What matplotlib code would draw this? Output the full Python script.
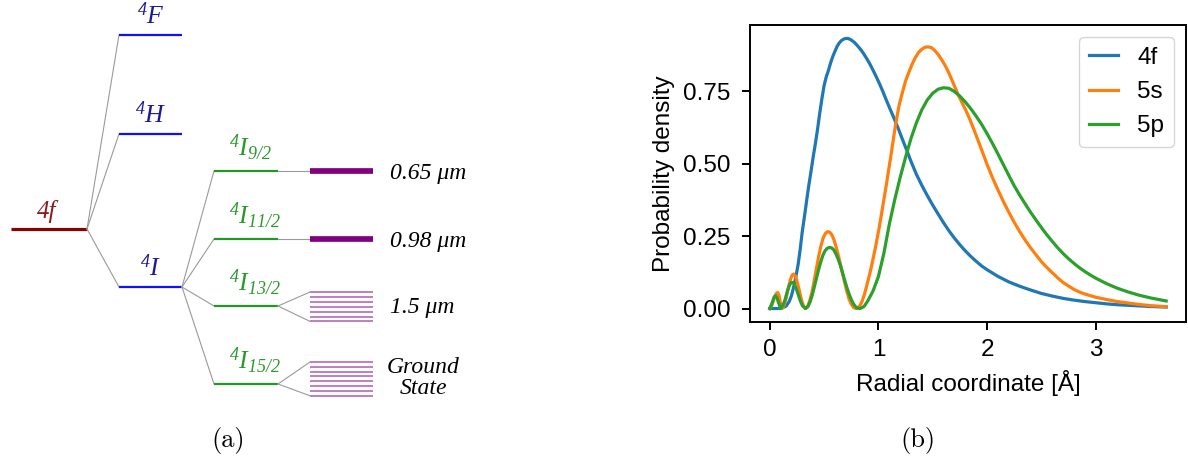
import matplotlib
matplotlib.use('Agg')
import matplotlib.pyplot as plt

plt.rcParams['mathtext.fontset'] = 'custom'
plt.rcParams['mathtext.it'] = 'Liberation Serif:italic'
plt.rcParams['mathtext.rm'] = 'Liberation Serif:italic'

# radial probability densities, r in Angstrom
r_4f = [0.0, 0.10, 0.15, 0.18, 0.20, 0.22, 0.236, 0.26, 0.28, 0.298, 0.32, 0.34, 0.359,
        0.38, 0.40, 0.42, 0.44, 0.46, 0.48, 0.50, 0.52, 0.54, 0.56, 0.58, 0.60, 0.62,
        0.64, 0.66, 0.68, 0.70, 0.72, 0.74, 0.76, 0.78, 0.80, 0.83, 0.86, 0.89, 0.92,
        0.95, 0.98, 1.01, 1.04, 1.07, 1.10, 1.14, 1.18, 1.22, 1.26, 1.30, 1.35, 1.40,
        1.45, 1.50, 1.55, 1.60, 1.65, 1.70, 1.75, 1.80, 1.85, 1.90, 1.95, 2.00, 2.10,
        2.20, 2.30, 2.40, 2.50, 2.60, 2.70, 2.80, 2.90, 3.00, 3.10, 3.20, 3.30, 3.40,
        3.50, 3.65]
p_4f = [0.0, 0.0, 0.008, 0.025, 0.045, 0.075, 0.102, 0.15, 0.205, 0.263, 0.32, 0.375,
        0.425, 0.475, 0.525, 0.57, 0.62, 0.675, 0.725, 0.77, 0.80, 0.822, 0.848, 0.870,
        0.888, 0.905, 0.917, 0.925, 0.930, 0.932, 0.932, 0.929, 0.924, 0.918, 0.910,
        0.897, 0.882, 0.864, 0.845, 0.823, 0.800, 0.776, 0.750, 0.722, 0.695, 0.660,
        0.624, 0.585, 0.547, 0.508, 0.463, 0.425, 0.390, 0.357, 0.326, 0.296, 0.268,
        0.243, 0.220, 0.199, 0.180, 0.163, 0.147, 0.134, 0.111, 0.092, 0.077, 0.064,
        0.052, 0.043, 0.035, 0.029, 0.024, 0.020, 0.016, 0.013, 0.011, 0.009, 0.007,
        0.005]

r_5s = [0.0, 0.02, 0.04, 0.06, 0.074, 0.085, 0.10, 0.114, 0.13, 0.15, 0.17, 0.19, 0.205,
        0.221, 0.235, 0.25, 0.27, 0.29, 0.31, 0.328, 0.35, 0.37, 0.39, 0.41, 0.43, 0.45,
        0.47, 0.49, 0.51, 0.53, 0.55, 0.57, 0.59, 0.61, 0.63, 0.65, 0.67, 0.69, 0.71,
        0.73, 0.75, 0.77, 0.79, 0.81, 0.83, 0.85, 0.87, 0.89, 0.91, 0.93, 0.95, 0.97,
        0.99, 1.01, 1.03, 1.05, 1.07, 1.09, 1.11, 1.13, 1.15, 1.17, 1.19, 1.21, 1.23,
        1.25, 1.28, 1.31, 1.34, 1.37, 1.40, 1.43, 1.46, 1.49, 1.52, 1.55, 1.58, 1.61,
        1.64, 1.67, 1.70, 1.73, 1.76, 1.80, 1.84, 1.88, 1.92, 1.96, 2.00, 2.05, 2.10,
        2.15, 2.20, 2.25, 2.30, 2.35, 2.40, 2.45, 2.50, 2.55, 2.60, 2.65, 2.70, 2.75,
        2.80, 2.85, 2.90, 3.00, 3.10, 3.20, 3.30, 3.40, 3.50, 3.65]
p_5s = [0.0, 0.012, 0.035, 0.052, 0.055, 0.045, 0.015, 0.0, 0.01, 0.035, 0.07, 0.10,
        0.115, 0.119, 0.112, 0.095, 0.065, 0.032, 0.008, 0.0, 0.008, 0.03, 0.06, 0.098,
        0.14, 0.18, 0.215, 0.242, 0.258, 0.265, 0.264, 0.255, 0.238, 0.213, 0.185, 0.153,
        0.12, 0.088, 0.058, 0.033, 0.015, 0.004, 0.0, 0.002, 0.01, 0.025, 0.047, 0.075,
        0.105, 0.135, 0.17, 0.205, 0.245, 0.285, 0.33, 0.375, 0.42, 0.468, 0.515, 0.565,
        0.615, 0.66, 0.70, 0.73, 0.758, 0.785, 0.815, 0.843, 0.866, 0.884, 0.895, 0.902,
        0.903, 0.900, 0.890, 0.877, 0.860, 0.842, 0.820, 0.795, 0.768, 0.742, 0.718,
        0.688, 0.655, 0.617, 0.578, 0.538, 0.498, 0.452, 0.410, 0.370, 0.333, 0.298,
        0.266, 0.237, 0.210, 0.186, 0.162, 0.142, 0.124, 0.106, 0.090, 0.078, 0.066,
        0.057, 0.050, 0.039, 0.031, 0.024, 0.019, 0.014, 0.010, 0.006]

r_5p = [0.0, 0.02, 0.04, 0.052, 0.065, 0.08, 0.10, 0.12, 0.14, 0.16, 0.18, 0.195, 0.21,
        0.225, 0.24, 0.26, 0.28, 0.30, 0.328, 0.35, 0.37, 0.39, 0.41, 0.43, 0.45, 0.47,
        0.49, 0.51, 0.53, 0.55, 0.57, 0.59, 0.61, 0.63, 0.65, 0.67, 0.69, 0.71, 0.73,
        0.75, 0.77, 0.79, 0.81, 0.83, 0.85, 0.87, 0.90, 0.95, 1.00, 1.05, 1.10, 1.15,
        1.20, 1.25, 1.30, 1.35, 1.40, 1.45, 1.50, 1.55, 1.60, 1.65, 1.70, 1.75, 1.80,
        1.85, 1.90, 1.95, 2.00, 2.05, 2.10, 2.15, 2.20, 2.25, 2.30, 2.35, 2.40, 2.45,
        2.50, 2.55, 2.60, 2.65, 2.70, 2.75, 2.80, 2.85, 2.90, 2.95, 3.00, 3.10, 3.20,
        3.30, 3.40, 3.50, 3.65]
p_5p = [0.0, 0.018, 0.04, 0.044, 0.038, 0.02, 0.0, 0.01, 0.03, 0.058, 0.08, 0.089, 0.09,
        0.085, 0.072, 0.05, 0.027, 0.01, 0.0, 0.006, 0.022, 0.045, 0.075, 0.105, 0.135,
        0.162, 0.185, 0.200, 0.208, 0.211, 0.209, 0.202, 0.188, 0.170, 0.148, 0.123,
        0.097, 0.072, 0.050, 0.031, 0.016, 0.006, 0.001, 0.0, 0.003, 0.008, 0.025, 0.06,
        0.11, 0.19, 0.29, 0.375, 0.452, 0.522, 0.587, 0.641, 0.686, 0.720, 0.743, 0.757,
        0.762, 0.760, 0.749, 0.733, 0.713, 0.690, 0.664, 0.636, 0.604, 0.570, 0.534,
        0.497, 0.460, 0.424, 0.392, 0.362, 0.333, 0.306, 0.280, 0.255, 0.232, 0.210,
        0.190, 0.172, 0.156, 0.141, 0.128, 0.116, 0.105, 0.086, 0.070, 0.057, 0.046,
        0.037, 0.026]

# level scheme, laid out in figure pixels (y downwards)
config_x = (11, 87)
term_x = (119, 182)
multiplet_x = (214, 278)
stark_x = (310, 373)
config_y = 229
term_names = [r'$^4F$', r'$^4H$', r'$^4I$']
term_y = [35, 134, 287]
multiplet_names = [r'$^4I_{9/2}$', r'$^4I_{11/2}$', r'$^4I_{13/2}$', r'$^4I_{15/2}$']
multiplet_y = [171, 239, 306, 384]
stark_spread = [0, 0, 14.7, 16.9]
stark_count = [1, 1, 7, 8]
emission_labels = ['0.65 μm', '0.98 μm', '1.5 μm', 'Ground\nState']

W, H = 1188, 465
fig = plt.figure(figsize=(W / 100, H / 100), dpi=100)

# left panel: energy level diagram
axd = fig.add_axes([0, 0, 1, 1])
axd.set_xlim(0, W)
axd.set_ylim(H, 0)
axd.axis('off')

grey = '#9a9a9a'
serif = dict(family='Liberation Serif', style='italic')

axd.plot(config_x, [config_y] * 2, color='#8b0000', lw=2.3, solid_capstyle='butt')
axd.text(47, 218, '4f', color='#8b1a1a', fontsize=18, ha='center', va='baseline', **serif)

for name, y in zip(term_names, term_y):
    axd.plot([config_x[1], term_x[0]], [config_y, y], color=grey, lw=0.8)
    axd.plot(term_x, [y, y], color='#1010ff', lw=1.6, solid_capstyle='butt')
    axd.text(151, y - 5, name, color='#1a1a9a', fontsize=18.5, ha='center', va='bottom')

for i, (name, y) in enumerate(zip(multiplet_names, multiplet_y)):
    axd.plot([term_x[1], multiplet_x[0]], [term_y[2], y], color=grey, lw=0.8)
    axd.plot(multiplet_x, [y, y], color='#229922', lw=1.6, solid_capstyle='butt')
    axd.text(229, y - 15, name, color='#2a992a', fontsize=18.5, ha='left', va='baseline')
    if stark_count[i] == 1:
        axd.plot([multiplet_x[1], stark_x[0]], [y, y], color=grey, lw=0.8)
        axd.plot(stark_x, [y, y], color='#800080', lw=4.1, solid_capstyle='butt')
        axd.text(390, y + 2, emission_labels[i], fontsize=17, ha='left', va='center', **serif)
    else:
        top = y - 14 if i == 2 else y - 22
        n = stark_count[i]
        step = stark_spread[i] * 2 / (n - 1)
        bottom = top + step * (n - 1)
        for k in range(n):
            axd.plot(stark_x, [top + k * step] * 2, color='#b05cb0', lw=1.1,
                     solid_capstyle='butt')
        axd.plot([multiplet_x[1], stark_x[0]], [y, top], color=grey, lw=0.8)
        axd.plot([multiplet_x[1], stark_x[0]], [y, bottom], color=grey, lw=0.8)
        if i == 2:
            axd.text(390, y + 1, emission_labels[i], fontsize=17, ha='left', va='center', **serif)
        else:
            axd.text(423, y - 6, emission_labels[i], fontsize=17, ha='center', va='center',
                     linespacing=0.95, multialignment='center', **serif)

axd.text(228, 440, '(a)', family='cmr10', fontsize=19, ha='center', va='center')
axd.text(918, 440, '(b)', family='cmr10', fontsize=19, ha='center', va='center')

# right panel: radial distributions
sans = 'Liberation Sans'
ax = fig.add_axes([750 / W, 1 - 322 / H, 436 / W, 297 / H])
ax.plot(r_4f, p_4f, lw=2.3, label='4f')
ax.plot(r_5s, p_5s, lw=2.3, label='5s')
ax.plot(r_5p, p_5p, lw=2.3, label='5p')
ax.set_xticks([0, 1, 2, 3])
ax.set_yticks([0, 0.25, 0.5, 0.75])
ax.set_yticklabels(['0.00', '0.25', '0.50', '0.75'])
ax.tick_params(labelsize=17.5, width=1.4, length=6, pad=6)
ax.tick_params(axis='y', pad=8)
for lab in ax.get_xticklabels() + ax.get_yticklabels():
    lab.set_family(sans)
for sp in ax.spines.values():
    sp.set_linewidth(1.4)
ax.set_xlabel('Radial coordinate [Å]', fontsize=17.5, family=sans, labelpad=7)
ax.set_ylabel('Probability density', fontsize=17.5, family=sans, labelpad=6)
ax.legend(loc='upper right', prop={'family': sans, 'size': 17.5}, handlelength=1.2)

fig.savefig('out.png', dpi=100)
